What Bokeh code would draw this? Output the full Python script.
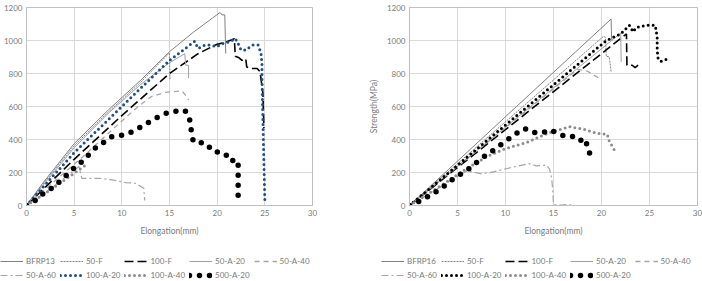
from bokeh.plotting import figure
from bokeh.models import Legend, LegendItem, Range1d
from bokeh.layouts import row, column
from bokeh.embed import file_html
from bokeh.resources import INLINE

# ---------------- Left chart (BFRP13) ----------------
L_bfrp_x = [0, 1.7, 5, 8.6, 12, 15, 17.5, 20.3, 20.5, 20.8, 20.9]
L_bfrp_y = [0, 135, 375, 580, 760, 932, 1050, 1170, 1155, 1155, 920]
L_50F_x = [0, 1.7, 5, 8.6, 12, 15, 15.05]
L_50F_y = [0, 128, 362, 568, 748, 925, 765]
L_100F_x = [0, 5, 10, 15, 18, 19.9, 20.9, 21.8, 21.9, 22.3, 22.6, 23.0, 23.1, 23.5, 24.2, 24.5, 24.8, 24.9]
L_100F_y = [0, 280, 545, 800, 920, 975, 990, 1010, 905, 895, 880, 890, 840, 830, 830, 810, 680, 470]
L_50A20_x = [0, 1.7, 5, 8.6, 12, 15, 16.6, 16.7, 17.0, 17.0]
L_50A20_y = [0, 120, 350, 560, 735, 865, 920, 850, 850, 772]
L_50A40_x = [0, 3, 6, 9, 11.7, 13.1, 14.5, 16.3, 16.8, 17.0]
L_50A40_y = [0, 150, 300, 460, 600, 660, 685, 695, 660, 640]
L_50A60_x = [0, 2.5, 5.5, 5.8, 7.6, 9.0, 10.4, 11.4, 12.3, 12.4]
L_50A60_y = [0, 100, 236, 165, 165, 155, 139, 135, 105, 30]
L_100A20_x = [0, 5, 10, 15, 17.65, 18.0, 18.7, 19.4, 19.9, 20.6, 21.3, 21.9, 22.2, 22.5, 23.0, 23.7, 24.3, 24.6, 24.7, 24.7, 24.8, 25.0]
L_100A20_y = [0, 320, 600, 880, 995, 952, 972, 972, 962, 982, 992, 1012, 982, 942, 942, 972, 972, 922, 861, 780, 500, 35]
L_100A40_x = [0, 2, 4, 6.3]
L_100A40_y = [0, 75, 155, 248]
L_500A20_x = [0, 0.87, 1.7, 2.6, 3.4, 4.1, 4.9, 5.7, 6.5, 7.2, 8.1, 8.9, 9.7, 10.6, 11.6, 12.5, 13.4, 14.3, 15.1, 15.8, 16.6, 17.0, 17.2, 17.3, 17.5, 18.3, 19.0, 19.4, 20.2, 20.9, 21.2, 22.2, 22.2, 22.2, 22.2, 22.2]
L_500A20_y = [0, 28, 69, 103, 141, 179, 222, 260, 306, 347, 383, 417, 423, 433, 464, 494, 524, 552, 567, 573, 577, 548, 498, 444, 387, 381, 371, 333, 321, 312, 272, 272, 210, 145, 85, 24]

# ---------------- Right chart (BFRP16) ----------------
R_bfrp_x = [0, 21.0, 21.05, 21.1]
R_bfrp_y = [0, 1130, 1010, 1000]
R_50F_x = [0, 20.2, 20.4, 20.5, 20.8, 20.9, 21.0]
R_50F_y = [0, 1025, 1020, 905, 900, 860, 810]
R_100F_x = [0, 22.6, 22.65, 23.2, 23.5, 23.9]
R_100F_y = [0, 1040, 850, 850, 835, 855]
R_50A20_x = [0, 22.0, 22.05]
R_50A20_y = [0, 1045, 870]
R_50A40_x = [0, 17.5, 18.5, 19.8]
R_50A40_y = [0, 825, 815, 770]
R_50A60_x = [0, 6.0, 7.4, 8.4, 10.5, 12.5, 13.2, 14.3, 14.6, 14.8, 14.9, 15.0, 15.7, 16.4, 17.0]
R_50A60_y = [0, 210, 193, 199, 229, 254, 240, 244, 219, 168, 108, 6, 2, 6, 2]
R_100A20_x = [0, 20.5, 22.0, 22.9, 23.3, 23.6, 24.6, 25.6, 25.8, 25.8, 25.9, 26.2, 27.2]
R_100A20_y = [0, 1000, 1040, 1092, 1052, 1078, 1092, 1092, 1021, 940, 889, 873, 895]
R_100A40_x = [0, 3, 6, 8, 9.8, 12.2, 14.6, 16.7, 18.1, 19.5, 20.6, 20.8, 21.2, 21.4]
R_100A40_y = [0, 110, 225, 295, 341, 382, 443, 477, 463, 437, 432, 392, 351, 331]
R_500A20_x = [0, 0.9, 1.9, 2.8, 3.6, 4.4, 5.3, 6.2, 7.0, 7.8, 8.6, 9.4, 10.3, 11.2, 12.0, 12.8, 13.8, 14.7, 15.4, 16.1, 16.9, 17.5, 18.4, 18.5, 18.9]
R_500A20_y = [0, 22, 53, 85, 118, 154, 189, 223, 262, 298, 329, 363, 402, 439, 467, 443, 439, 459, 437, 422, 422, 392, 402, 341, 305]

x_ticks = [0, 5, 10, 15, 20, 25, 30]
y_ticks = [0, 200, 400, 600, 800, 1000, 1200]
x_title = "Elongation(mm)"
y_title_right = "Strength(MPa)"
left_names = ["BFRP13", "50-F", "100-F", "50-A-20", "50-A-40", "50-A-60", "100-A-20", "100-A-40", "500-A-20"]
right_names = ["BFRP16", "50-F", "100-F", "50-A-20", "50-A-40", "50-A-60", "100-A-20", "100-A-40", "500-A-20"]

FONT = "Lato"
TXT = "#7a7a7a"
GRID = "#d9d9d9"
MAIN_H = 238
LEG_H = 281 - MAIN_H


def make_fig(width, left, right, y_title):
    p = figure(width=width, height=MAIN_H,
               min_border_left=left, min_border_right=right, min_border_top=7,
               min_border_bottom=MAIN_H - 7 - 198,
               x_range=Range1d(0, 30), y_range=Range1d(0, 1200),
               output_backend="svg", toolbar_location=None)
    p.outline_line_color = "#bfbfbf"
    p.xgrid.grid_line_color = GRID
    p.ygrid.grid_line_color = GRID
    p.xaxis.ticker = x_ticks
    p.yaxis.ticker = y_ticks
    for ax in (p.xaxis[0], p.yaxis[0]):
        ax.axis_line_color = "#bfbfbf"
        ax.major_tick_line_color = None
        ax.minor_tick_line_color = None
        ax.major_tick_out = 0
        ax.major_tick_in = 0
        ax.minor_tick_out = 0
        ax.minor_tick_in = 0
        ax.major_label_text_font = FONT
        ax.major_label_text_font_size = "8px"
        ax.major_label_text_color = TXT
        ax.major_label_standoff = 4
        ax.axis_label_text_font = FONT
        ax.axis_label_text_font_size = "8.5px"
        ax.axis_label_text_color = TXT
        ax.axis_label_text_font_style = "normal"
    p.xaxis.axis_label = x_title
    p.xaxis.axis_label_standoff = 7
    if y_title:
        p.yaxis.axis_label = y_title
        p.yaxis.axis_label_standoff = 5
    return p


def styles_for(dot2_color):
    return [
        dict(line_color="#808080", line_width=1),
        dict(line_color="#808080", line_width=1, line_dash="2 1"),
        dict(line_color="#000000", line_width=1.6, line_dash="9 4"),
        dict(line_color="#a0a0a0", line_width=1),
        dict(line_color="#a6a6a6", line_width=1.3, line_dash="5 4"),
        dict(line_color="#a6a6a6", line_width=1.2, line_dash="7 3 2 3"),
        dict(line_color=dot2_color, line_width=3, line_dash="0 5", line_cap="round"),
        dict(line_color="#8c8c8c", line_width=3, line_dash="0 5", line_cap="round"),
        dict(line_color="#000000", line_width=5.5, line_dash="0 10", line_cap="round"),
    ]


def add_series(p, series, styles):
    for (xs, ys), st in zip(series, styles):
        p.line(xs, ys, **st)


def legend_fig(width, names, series, styles, x0):
    # legend strip: same series, drawn outside its (empty) view, only the key shows
    q = figure(width=width, height=LEG_H, min_border=0,
               x_range=Range1d(-200, -199), y_range=Range1d(-5000, -4999),
               x_axis_type=None, y_axis_type=None,
               output_backend="svg", toolbar_location=None)
    q.outline_line_color = None
    q.xgrid.visible = False
    q.ygrid.visible = False
    items = []
    for name, (xs, ys), st in zip(names, series, styles):
        r = q.line(xs, ys, **st)
        items.append(LegendItem(label=name, renderers=[r]))
    leg = Legend(items=items, orientation="horizontal", ncols=5,
                 location=(x0, 1),
                 label_text_font=FONT, label_text_font_size="8px",
                 label_text_color=TXT, glyph_width=23, glyph_height=10,
                 label_height=10, label_standoff=3, spacing=4,
                 padding=0, margin=0, border_line_color=None,
                 background_fill_alpha=0)
    q.add_layout(leg, "center")
    return q


L_series = [(L_bfrp_x, L_bfrp_y), (L_50F_x, L_50F_y), (L_100F_x, L_100F_y),
            (L_50A20_x, L_50A20_y), (L_50A40_x, L_50A40_y), (L_50A60_x, L_50A60_y),
            (L_100A20_x, L_100A20_y), (L_100A40_x, L_100A40_y), (L_500A20_x, L_500A20_y)]
R_series = [(R_bfrp_x, R_bfrp_y), (R_50F_x, R_50F_y), (R_100F_x, R_100F_y),
            (R_50A20_x, R_50A20_y), (R_50A40_x, R_50A40_y), (R_50A60_x, R_50A60_y),
            (R_100A20_x, R_100A20_y), (R_100A40_x, R_100A40_y), (R_500A20_x, R_500A20_y)]

p1 = make_fig(365, 24, 53, None)
add_series(p1, L_series, styles_for("#1f4e8c"))

p2 = make_fig(337, 44, 5, y_title_right)
add_series(p2, R_series, styles_for("#000000"))

l1 = legend_fig(365, left_names, L_series, styles_for("#1f4e8c"), 0)
l2 = legend_fig(337, right_names, R_series, styles_for("#000000"), 16)

layout = column(row(p1, p2), row(l1, l2))
open("out.html", "w").write(file_html(layout, INLINE))
